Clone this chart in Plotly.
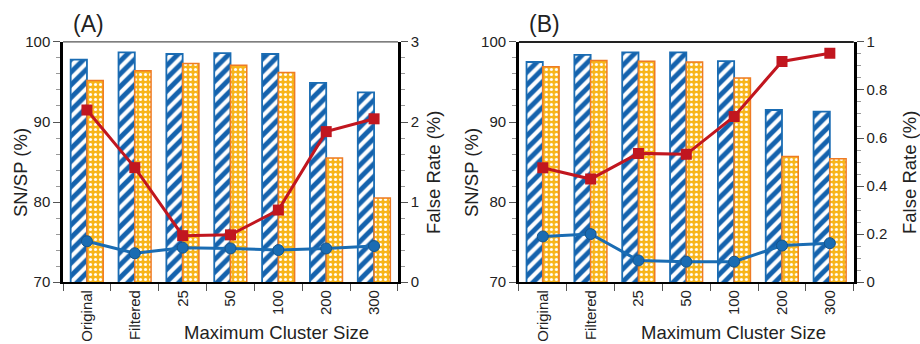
import plotly.graph_objects as go

categories = ["Original", "Filtered", "25", "50", "100", "200", "300"]

# Panel A
a_sn = [97.8, 98.7, 98.5, 98.6, 98.5, 94.9, 93.7]
a_sp = [95.2, 96.4, 97.3, 97.1, 96.2, 85.5, 80.5]
a_red = [2.15, 1.43, 0.58, 0.59, 0.90, 1.88, 2.04]
a_blue = [0.51, 0.36, 0.43, 0.42, 0.40, 0.42, 0.45]

# Panel B
b_sn = [97.5, 98.4, 98.7, 98.7, 97.6, 91.5, 91.3]
b_sp = [96.9, 97.7, 97.6, 97.5, 95.5, 85.7, 85.4]
b_red = [0.476, 0.429, 0.536, 0.532, 0.69, 0.919, 0.953]
b_blue = [0.19, 0.20, 0.09, 0.085, 0.085, 0.152, 0.162]

BLUE = "#1a6cb3"
STRIPE = "#1462ad"
ORANGE_FILL = "#f8b51a"
ORANGE_LINE = "#ee7b25"
RED = "#c1161f"
FONT = "Liberation Sans, Arial, sans-serif"

fig = go.Figure()


def add_panel(sn, sp, red, blue, xa, ya, ya2):
    fig.add_trace(go.Bar(
        x=categories, y=sn, xaxis=xa, yaxis=ya,
        marker=dict(color="white", line=dict(color=BLUE, width=1.8),
                    pattern=dict(shape="/", fgcolor=STRIPE, bgcolor="white",
                                 fgopacity=1, size=9, solidity=0.55)),
        showlegend=False, offsetgroup="sn" + xa))
    fig.add_trace(go.Bar(
        x=categories, y=sp, xaxis=xa, yaxis=ya,
        marker=dict(color=ORANGE_FILL, line=dict(color=ORANGE_LINE, width=1.5),
                    pattern=dict(shape=".", fgcolor="white", bgcolor=ORANGE_FILL,
                                 fgopacity=1, size=5, solidity=0.3)),
        showlegend=False, offsetgroup="sp" + xa))
    fig.add_trace(go.Scatter(
        x=categories, y=red, xaxis=xa, yaxis=ya2, mode="lines+markers",
        line=dict(color=RED, width=3),
        marker=dict(symbol="square", size=11, color=RED),
        showlegend=False))
    fig.add_trace(go.Scatter(
        x=categories, y=blue, xaxis=xa, yaxis=ya2, mode="lines+markers",
        line=dict(color=BLUE, width=3),
        marker=dict(symbol="circle", size=11, color=BLUE,
                    line=dict(color="#15548c", width=1)),
        showlegend=False))


add_panel(a_sn, a_sp, a_red, a_blue, "x", "y", "y2")
add_panel(b_sn, b_sp, b_red, b_blue, "x2", "y3", "y4")

yd = [0.18, 0.878]
tickfont = dict(family=FONT, size=15, color="#222")

xcommon = dict(type="category", tickson="boundaries", ticks="outside",
               ticklen=7, tickcolor="#555", tickwidth=1, automargin=False,
               showline=True, linecolor="black", linewidth=2,
               tickangle=-90, tickfont=dict(family=FONT, size=15, color="#222"),
               showgrid=False, zeroline=False, fixedrange=True)
yleft = dict(range=[70, 100], dtick=10, ticks="outside", ticklen=7, automargin=False,
             tickcolor="#555", showline=True, linecolor="black", linewidth=2.5,
             showgrid=False, zeroline=False, tickfont=tickfont,
             minor=dict(dtick=2, ticks="outside", ticklen=4, tickcolor="#999"))

fig.update_layout(
    width=920, height=344,
    margin=dict(l=0, r=0, t=0, b=0, pad=0),
    paper_bgcolor="white", plot_bgcolor="white",
    barmode="group", bargap=0.32, bargroupgap=0,
    font=dict(family=FONT, color="#222"),
    xaxis=dict(domain=[0.0685, 0.4326], anchor="y", **xcommon),
    xaxis2=dict(domain=[0.564, 0.928], anchor="y3", **xcommon),
    yaxis=dict(domain=yd, anchor="x", **yleft),
    yaxis3=dict(domain=yd, anchor="x2", **yleft),
    yaxis2=dict(range=[0, 3], dtick=1, overlaying="y", side="right", anchor="x",
                ticks="outside", ticklen=7, tickcolor="#555", showline=True,
                linecolor="black", linewidth=2.5, showgrid=False, zeroline=False,
                tickfont=tickfont, automargin=False,
                minor=dict(dtick=0.2, ticks="outside", ticklen=4, tickcolor="#999")),
    yaxis4=dict(range=[0, 1], dtick=0.2, overlaying="y3", side="right", anchor="x2",
                ticks="outside", ticklen=7, tickcolor="#555", showline=True,
                linecolor="black", linewidth=2.5, showgrid=False, zeroline=False,
                tickfont=tickfont, tickformat="~g", automargin=False,
                minor=dict(dtick=0.05, ticks="outside", ticklen=4, tickcolor="#999")),
)

# top border lines
for xr, yr, col, w in [("x domain", "y domain", "#555", 1.2), ("x2 domain", "y3 domain", "#222", 2)]:
    fig.add_shape(type="line", xref=xr, yref=yr, x0=0, x1=1, y0=1, y1=1,
                  line=dict(color=col, width=w))

ann_font_title = dict(family=FONT, size=18.5, color="#222")
anns = [
    dict(text="(A)", x=88, y=24, font=dict(family=FONT, size=23, color="#222")),
    dict(text="(B)", x=544, y=24, font=dict(family=FONT, size=23, color="#222")),
    dict(text="Maximum Cluster Size", x=276, y=332, font=ann_font_title),
    dict(text="Maximum Cluster Size", x=733, y=332, font=ann_font_title),
    dict(text="SN/SP (%)", x=20, y=173, textangle=-90, font=ann_font_title),
    dict(text="SN/SP (%)", x=471, y=173, textangle=-90, font=ann_font_title),
    dict(text="False Rate (%)", x=433, y=173, textangle=-90, font=ann_font_title),
    dict(text="False Rate (%)", x=909, y=173, textangle=-90, font=ann_font_title),
]
for a in anns:
    fig.add_annotation(text=a["text"], x=a["x"] / 920, y=1 - a["y"] / 344,
                       xref="paper", yref="paper", showarrow=False,
                       xanchor="center", yanchor="middle",
                       textangle=a.get("textangle", 0), font=a["font"])

fig.write_html(
    "out.html",
    config={"displayModeBar": False},
    post_script="document.body.style.margin='0';document.body.style.overflow='hidden';",
)
